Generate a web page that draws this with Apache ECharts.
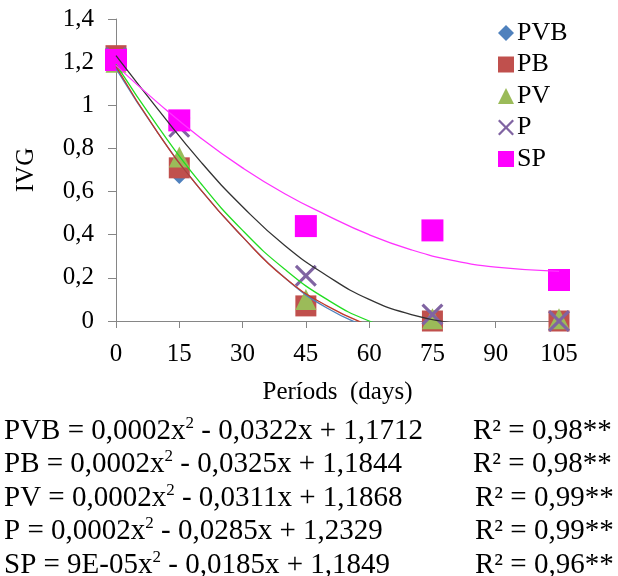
<!DOCTYPE html>
<html>
<head>
<meta charset="utf-8">
<script src="https://cdn.jsdelivr.net/npm/echarts@6/dist/echarts.min.js"></script>
<style>
  html, body { margin: 0; padding: 0; background: #fff; }
  #main { width: 618px; height: 576px; }
</style>
</head>
<body>
<div id="main"></div>
<script>
// dados
var days = [0, 15, 45, 75, 105];
var names = ['PVB', 'PB', 'PV', 'P', 'SP'];
var pvb = [1.20, 0.67, 0.08, 0.00, 0.00];
var pb  = [1.23, 0.71, 0.07, 0.00, 0.00];
var pv  = [1.20, 0.76, 0.10, 0.01, 0.01];
var p   = [1.22, 0.90, 0.21, 0.03, 0.00];
var sp  = [1.21, 0.93, 0.44, 0.42, 0.19];

// linhas de tendência
var trendDays   = [0, 10, 20, 30, 40, 50, 60, 70, 80, 90, 105];
var pvbTrend = [1.17, 0.87, 0.61, 0.39, 0.20, 0.06, -0.03, null, null, null, null];
var pbTrend  = [1.18, 0.87, 0.61, 0.39, 0.20, 0.07, -0.02, null, null, null, null];
var pvTrend  = [1.19, 0.90, 0.64, 0.42, 0.24, 0.10, 0.00, -0.06, null, null, null];
var pTrend   = [1.23, 0.98, 0.74, 0.53, 0.35, 0.21, 0.10, 0.03, -0.01, null, null];
var spTrend  = [1.185, 1.01, 0.85, 0.71, 0.59, 0.49, 0.40, 0.33, 0.28, 0.25, 0.23];

var equations = [
  'PVB = 0,0002x|2| - 0,0322x + 1,1712',
  'PB = 0,0002x|2| - 0,0325x + 1,1844',
  'PV = 0,0002x|2| - 0,0311x + 1,1868',
  'P = 0,0002x|2| - 0,0285x + 1,2329',
  'SP = 9E-05x|2| - 0,0185x + 1,1849'
];
var r2 = ['R² = 0,98**', 'R² = 0,98**', 'R² = 0,99**', 'R² = 0,99**', 'R² = 0,96**'];

var colors = ['#4f81bd', '#c0504d', '#9bbb59', '#8064a2', '#ff00ff'];
var lineColors = ['#4f81bd', '#c0392b', '#22dd22', '#333333', '#ff33ff'];
var symbols = ['diamond', 'rect', 'triangle',
  'path://M0,1L1,0L5,4L9,0L10,1L6,5L10,9L9,10L5,6L1,10L0,9L4,5Z', 'rect'];
var sizes = [15, 21, 21, 22, 22];
var font = 'Liberation Serif';

function pairs(xs, ys) {
  var out = [];
  for (var i = 0; i < xs.length; i++) {
    if (ys[i] !== null) out.push([xs[i], ys[i]]);
  }
  return out;
}

var allPoints = [pvb, pb, pv, p, sp];
var allTrends = [pvbTrend, pbTrend, pvTrend, pTrend, spTrend];

var series = [];
allPoints.forEach(function(vals, i) {
  series.push({
    name: names[i],
    type: 'scatter',
    symbol: symbols[i],
    symbolSize: sizes[i],
    z: 2 + i,
    itemStyle: { color: colors[i], opacity: 1 },
    data: pairs(days, vals)
  });
});
allTrends.forEach(function(vals, i) {
  series.push({
    name: names[i] + ' trend',
    type: 'line',
    smooth: true,
    showSymbol: false,
    z: 10,
    clip: true,
    lineStyle: { color: lineColors[i], width: 1.3 },
    data: pairs(trendDays, vals)
  });
});

// equações embaixo do gráfico
var graphics = [];
equations.forEach(function(eq, i) {
  var parts = eq.split('|');
  graphics.push({
    type: 'text',
    left: 4,
    top: 415 + i * 33.5,
    style: {
      text: '{t|' + parts[0] + '}{s|' + parts[1] + '}{t|' + parts[2] + '}',
      rich: {
        t: { fontFamily: font, fontSize: 29, lineHeight: 32, fill: '#000' },
        s: { fontFamily: font, fontSize: 17, lineHeight: 32, verticalAlign: 'top', fill: '#000' }
      }
    }
  });
  graphics.push({
    type: 'text',
    left: i < 2 ? 473 : 475,
    top: 415 + i * 33.5,
    style: { text: r2[i], fontFamily: font, fontSize: 29, lineHeight: 32, fill: '#000' }
  });
});

var myChart = echarts.init(document.getElementById('main'));
var option = {
  animation: false,
  backgroundColor: '#fff',
  textStyle: { fontFamily: font },
  grid: { left: 116, right: 59, top: 19, bottom: 255 },
  legend: {
    orient: 'vertical',
    left: 493,
    top: 15,
    itemWidth: 16,
    itemHeight: 16,
    itemGap: 5.5,
    data: names,
    textStyle: { fontFamily: font, fontSize: 26, color: '#000', padding: [0, 0, 0, -2] }
  },
  xAxis: {
    type: 'value',
    min: 0,
    max: 105,
    interval: 15,
    name: 'Períods  (days)',
    nameLocation: 'middle',
    nameGap: 59,
    nameTextStyle: { fontFamily: font, fontSize: 25, color: '#000' },
    splitLine: { show: false },
    axisLine: { lineStyle: { color: '#868686' } },
    axisTick: { show: true, length: 7, lineStyle: { color: '#868686' } },
    axisLabel: { fontFamily: font, fontSize: 25, color: '#000', margin: 21 }
  },
  yAxis: {
    type: 'value',
    min: 0,
    max: 1.4,
    interval: 0.2,
    name: 'IVG',
    nameLocation: 'middle',
    nameRotate: 90,
    nameGap: 77,
    nameTextStyle: { fontFamily: font, fontSize: 25, color: '#000' },
    splitLine: { show: false },
    axisLine: { show: true, lineStyle: { color: '#868686' } },
    axisTick: { show: true, length: 8, lineStyle: { color: '#868686' } },
    axisLabel: {
      fontFamily: font, fontSize: 25, color: '#000', margin: 22,
      formatter: function(v) { return String(+v.toFixed(1)).replace('.', ','); }
    }
  },
  graphic: graphics,
  series: series
};
myChart.setOption(option);
</script>
</body>
</html>
